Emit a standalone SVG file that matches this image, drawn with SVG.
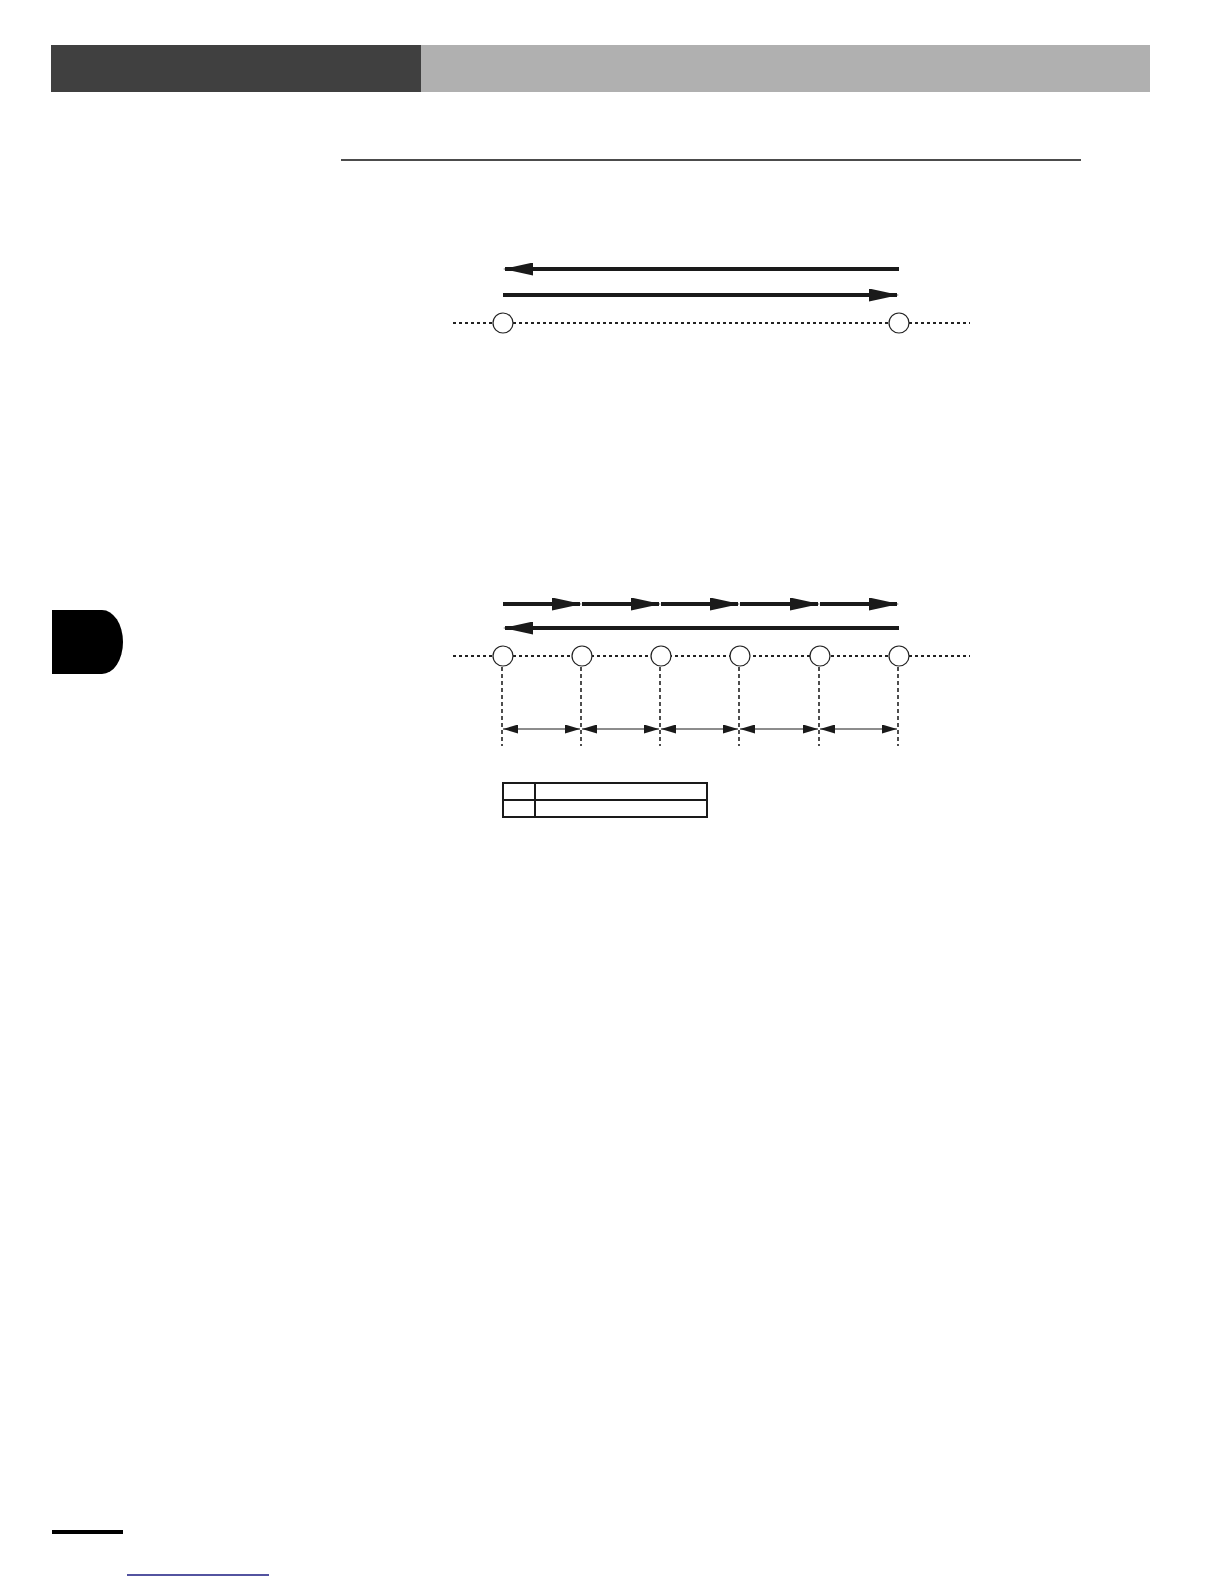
<svg xmlns="http://www.w3.org/2000/svg" width="1224" height="1584" viewBox="0 0 1224 1584">
<style>
.dot{stroke:#222;stroke-width:2;stroke-dasharray:3 3;fill:none}
.vdash{stroke:#222;stroke-width:1.6;stroke-dasharray:4 3;fill:none}
.shaft{stroke:#1a1a1a;stroke-width:4;fill:none}
.thin{stroke:#1a1a1a;stroke-width:1;fill:none}
.node{fill:#fff;stroke:#222;stroke-width:1.2}
.tbl{fill:none;stroke:#1a1a1a;stroke-width:2}
</style>
<defs>
<marker id="bigR" markerUnits="userSpaceOnUse" markerWidth="30" markerHeight="13" refX="28" refY="6.5" orient="auto" viewBox="0 0 30 13"><path d="M0,0 L30,6.5 L0,13 Z" fill="#1a1a1a"/></marker>
<marker id="smR" markerUnits="userSpaceOnUse" markerWidth="15" markerHeight="9" refX="15" refY="4.5" orient="auto" viewBox="0 0 15 9"><path d="M0,0 L15,4.5 L0,9 Z" fill="#1a1a1a"/></marker>
<marker id="smL" markerUnits="userSpaceOnUse" markerWidth="15" markerHeight="9" refX="0" refY="4.5" orient="auto" viewBox="0 0 15 9"><path d="M15,0 L0,4.5 L15,9 Z" fill="#1a1a1a"/></marker>
</defs>
<g id="header">
<rect x="51" y="45" width="370" height="47" fill="#404040"/>
<rect x="421" y="45" width="729" height="47" fill="#b0b0b0"/>
</g>
<line x1="341" y1="160" x2="1081" y2="160" stroke="#111" stroke-width="1.3"/>
<path id="side-tab" d="M52,610 H102 A21,32 0 0 1 102,674 H52 Z" fill="#000"/>
<line x1="52" y1="1532" x2="123" y2="1532" stroke="#000" stroke-width="4"/>
<line x1="127" y1="1575" x2="269" y2="1575" stroke="#1a1a80" stroke-width="1.5"/>

<g id="connectors">
<!-- diagram 1 -->
<line class="dot" x1="453" y1="323" x2="970" y2="323"/>
<line class="shaft" x1="899" y1="269" x2="505" y2="269" marker-end="url(#bigR)"/>
<line class="shaft" x1="503" y1="295" x2="897" y2="295" marker-end="url(#bigR)"/>
<!-- diagram 2 -->
<line class="dot" x1="453" y1="656" x2="970" y2="656"/>
<line class="shaft" x1="503" y1="604" x2="580" y2="604" marker-end="url(#bigR)"/>
<line class="shaft" x1="582" y1="604" x2="659" y2="604" marker-end="url(#bigR)"/>
<line class="shaft" x1="661" y1="604" x2="738" y2="604" marker-end="url(#bigR)"/>
<line class="shaft" x1="740" y1="604" x2="818" y2="604" marker-end="url(#bigR)"/>
<line class="shaft" x1="820" y1="604" x2="897" y2="604" marker-end="url(#bigR)"/>
<line class="shaft" x1="899" y1="628" x2="505" y2="628" marker-end="url(#bigR)"/>
<line class="vdash" x1="502" y1="667" x2="502" y2="746"/>
<line class="vdash" x1="581" y1="667" x2="581" y2="746"/>
<line class="vdash" x1="660" y1="667" x2="660" y2="746"/>
<line class="vdash" x1="739" y1="667" x2="739" y2="746"/>
<line class="vdash" x1="819" y1="667" x2="819" y2="746"/>
<line class="vdash" x1="898" y1="667" x2="898" y2="746"/>
<line class="thin" x1="503" y1="729" x2="580" y2="729" marker-start="url(#smL)" marker-end="url(#smR)"/>
<line class="thin" x1="582" y1="729" x2="659" y2="729" marker-start="url(#smL)" marker-end="url(#smR)"/>
<line class="thin" x1="661" y1="729" x2="738" y2="729" marker-start="url(#smL)" marker-end="url(#smR)"/>
<line class="thin" x1="740" y1="729" x2="818" y2="729" marker-start="url(#smL)" marker-end="url(#smR)"/>
<line class="thin" x1="820" y1="729" x2="897" y2="729" marker-start="url(#smL)" marker-end="url(#smR)"/>
</g>

<g id="n1a"><circle class="node" cx="503" cy="323" r="10"/></g>
<g id="n1b"><circle class="node" cx="899" cy="323" r="10"/></g>
<g id="n2a"><circle class="node" cx="503" cy="656" r="10"/></g>
<g id="n2b"><circle class="node" cx="582" cy="656" r="10"/></g>
<g id="n2c"><circle class="node" cx="661" cy="656" r="10"/></g>
<g id="n2d"><circle class="node" cx="740" cy="656" r="10"/></g>
<g id="n2e"><circle class="node" cx="820" cy="656" r="10"/></g>
<g id="n2f"><circle class="node" cx="899" cy="656" r="10"/></g>

<g id="table">
<rect class="tbl" x="503" y="783" width="204" height="34"/>
<line class="tbl" x1="503" y1="800" x2="707" y2="800"/>
<line class="tbl" x1="535" y1="783" x2="535" y2="817"/>
</g>
</svg>
